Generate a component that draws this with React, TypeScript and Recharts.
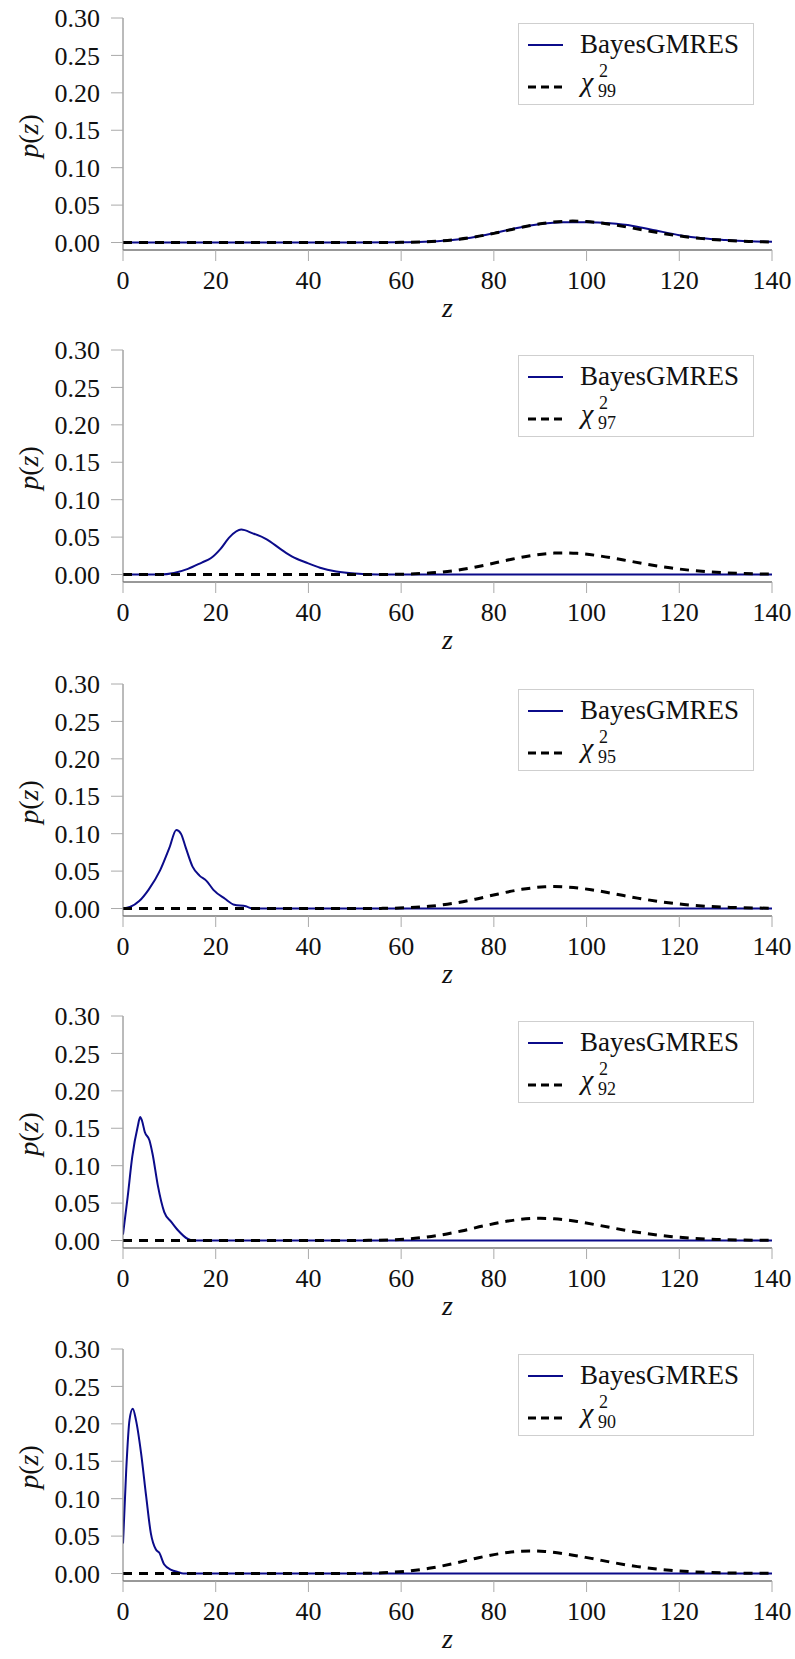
import React from 'react';
import { LineChart, Line, XAxis, YAxis, Legend } from 'recharts';

const zTicks = [0, 20, 40, 60, 80, 100, 120, 140];
const pTicks = [0, 0.05, 0.1, 0.15, 0.2, 0.25, 0.3];
const dofLabels = ['99', '97', '95', '92', '90'];

// BayesGMRES densities
const bayes99Z = [0, 50, 60, 65, 70, 75, 80, 85, 90, 95, 100, 105, 110, 115, 120, 125, 130, 135, 140];
const bayes99P = [0, 0, 0.0003, 0.001, 0.0028, 0.0065, 0.0125, 0.0195, 0.0248, 0.0272, 0.027, 0.0256, 0.0222, 0.016, 0.0098, 0.0056, 0.0034, 0.0018, 0.0009];

const bayes97Z = [0, 8, 11, 14, 17, 19, 21, 23, 25.5, 28, 31, 34, 36.5, 39.5, 42.5, 46, 50, 55, 140];
const bayes97P = [0, 0, 0.002, 0.0075, 0.016, 0.022, 0.034, 0.05, 0.06, 0.055, 0.047, 0.034, 0.024, 0.016, 0.009, 0.004, 0.0012, 0, 0];

const bayes95Z = [0, 1.5, 3.5, 5.5, 8, 10, 11.5, 12.5, 13.5, 15, 16.5, 18, 19.5, 22, 24, 26.5, 28, 140];
const bayes95P = [0, 0.002, 0.01, 0.025, 0.051, 0.081, 0.105, 0.1, 0.082, 0.056, 0.044, 0.037, 0.025, 0.013, 0.005, 0.003, 0, 0];

const bayes92Z = [0, 1, 2, 3.2, 3.7, 4.1, 4.7, 5.7, 6.4, 7.5, 8.9, 10.4, 11.8, 14, 15, 140];
const bayes92P = [0.008, 0.058, 0.112, 0.153, 0.165, 0.16, 0.145, 0.134, 0.115, 0.074, 0.038, 0.025, 0.014, 0.002, 0, 0];

const bayes90Z = [0, 0.7, 1.4, 2.1, 2.8, 3.9, 5, 6, 7.1, 7.8, 8.9, 10.4, 11.8, 13, 140];
const bayes90P = [0.04, 0.139, 0.205, 0.22, 0.205, 0.161, 0.103, 0.054, 0.032, 0.028, 0.012, 0.005, 0.002, 0, 0];

// chi-squared reference densities
const chi99Z = [0, 50, 60, 65, 70, 75, 80, 85, 90, 95, 97, 100, 105, 110, 115, 120, 125, 130, 135, 140];
const chi99P = [0, 0, 0.0002, 0.0009, 0.0028, 0.0066, 0.0122, 0.0191, 0.025, 0.0283, 0.0286, 0.028, 0.0245, 0.0192, 0.0136, 0.0088, 0.0052, 0.0029, 0.0015, 0.0007];

const chi97Z = [0, 48, 58, 63, 68, 73, 78, 83, 88, 93, 95, 98, 103, 108, 113, 118, 123, 128, 133, 138, 140];
const chi97P = [0, 0, 0.0002, 0.001, 0.0028, 0.0066, 0.0124, 0.0193, 0.0253, 0.0286, 0.0289, 0.0283, 0.0247, 0.0194, 0.0137, 0.0089, 0.0053, 0.0029, 0.0015, 0.0007, 0.0005];

const chi95Z = [0, 46, 56, 61, 66, 71, 76, 81, 86, 91, 93, 96, 101, 106, 111, 116, 121, 126, 131, 136, 140];
const chi95P = [0, 0, 0.0002, 0.001, 0.0029, 0.0067, 0.0125, 0.0195, 0.0256, 0.029, 0.0293, 0.0286, 0.0251, 0.0196, 0.0139, 0.009, 0.0054, 0.0029, 0.0015, 0.0007, 0.0004];

const chi92Z = [0, 43, 53, 58, 63, 68, 73, 78, 83, 88, 90, 93, 98, 103, 108, 113, 118, 123, 128, 133, 138, 140];
const chi92P = [0, 0, 0.0002, 0.001, 0.0029, 0.0068, 0.0127, 0.0198, 0.026, 0.0294, 0.0297, 0.029, 0.0254, 0.0199, 0.0141, 0.0091, 0.0054, 0.003, 0.0015, 0.0007, 0.0003, 0.0002];

const chi90Z = [0, 41, 51, 56, 61, 66, 71, 76, 81, 86, 88, 91, 96, 101, 106, 111, 116, 121, 126, 131, 136, 140];
const chi90P = [0, 0, 0.0002, 0.001, 0.003, 0.0069, 0.0129, 0.0201, 0.0263, 0.0298, 0.0301, 0.0294, 0.0257, 0.0202, 0.0143, 0.0092, 0.0055, 0.003, 0.0015, 0.0007, 0.0003, 0.0002];

const toPoints = (zs: number[], ps: number[]) => zs.map((z, i) => ({ z, p: ps[i] }));

const panels = [
  { dof: dofLabels[0], bayes: toPoints(bayes99Z, bayes99P), chi: toPoints(chi99Z, chi99P) },
  { dof: dofLabels[1], bayes: toPoints(bayes97Z, bayes97P), chi: toPoints(chi97Z, chi97P) },
  { dof: dofLabels[2], bayes: toPoints(bayes95Z, bayes95P), chi: toPoints(chi95Z, chi95P) },
  { dof: dofLabels[3], bayes: toPoints(bayes92Z, bayes92P), chi: toPoints(chi92Z, chi92P) },
  { dof: dofLabels[4], bayes: toPoints(bayes90Z, bayes90P), chi: toPoints(chi90Z, chi90P) },
];

const panelTops = [0, 332, 666, 998, 1331];

const FONT = "'Liberation Serif', 'DejaVu Serif', serif";
const NAVY = '#0b0b8a';
const W = 795;
const H = 333;

// recharts tick text ignored the font attribute, so force it here
const globalCss = `.figwrap svg text, .figwrap svg tspan { font-family: ${FONT} !important; }`;

const legendBox = (dof: string) => () => (
  <svg width={236} height={82} style={{ display: 'block' }}>
    <rect x={0.5} y={0.5} width={235} height={81} fill="#fff" stroke="#cfcfcf" />
    <line x1={10} x2={45} y1={22} y2={22} stroke={NAVY} strokeWidth={2} />
    <text x={62} y={30} fontSize={27} fill="#111">BayesGMRES</text>
    <line x1={10} x2={45} y1={64} y2={64} stroke="#000" strokeWidth={3} strokeDasharray="8 5" />
    <text x={63} y={68} fontSize={28} fontStyle="italic" fill="#111">χ</text>
    <text x={81} y={54} fontSize={18} fill="#111">2</text>
    <text x={80} y={74} fontSize={18} fill="#111">{dof}</text>
  </svg>
);

const YLabel = (props: any) => {
  const vb = props.viewBox || {};
  const cy = (vb.y || 0) + (vb.height || 0) / 2 + 2;
  const cx = 28;
  return (
    <text
      x={cx}
      y={cy}
      transform={`rotate(-90, ${cx}, ${cy})`}
      textAnchor="middle"
      dominantBaseline="central"
      fontSize={28}
      fill="#111"
    >
      <tspan fontStyle="italic">p</tspan>
      <tspan>(</tspan>
      <tspan fontStyle="italic">z</tspan>
      <tspan>)</tspan>
    </text>
  );
};

const XLabel = (props: any) => {
  const vb = props.viewBox || {};
  return (
    <text
      x={(vb.x || 0) + (vb.width || 0) / 2}
      y={(vb.y || 0) + 67}
      textAnchor="middle"
      fontSize={28}
      fontStyle="italic"
      fill="#111"
    >
      z
    </text>
  );
};

const tickStyle = { fontSize: 26, fill: '#111' };

const Panel = ({ dof, bayes, chi }: any) => (
  <LineChart width={W} height={H} margin={{ top: 18, right: 23, bottom: 0, left: 0 }}>
    <XAxis
      dataKey="z"
      type="number"
      domain={[0, 140]}
      ticks={zTicks}
      allowDataOverflow
      height={83}
      tickSize={11}
      tickMargin={10}
      tick={tickStyle}
      tickLine={{ stroke: '#aaa' }}
      axisLine={{ stroke: '#333' }}
      label={<XLabel />}
    />
    <XAxis
      xAxisId="top"
      orientation="top"
      dataKey="z"
      type="number"
      domain={[0, 140]}
      ticks={[]}
      tick={false}
      tickLine={false}
      height={0}
      axisLine={{ stroke: '#333' }}
    />
    <YAxis
      type="number"
      domain={[-0.01, 0.3]}
      ticks={pTicks}
      allowDataOverflow
      width={123}
      tickSize={12}
      tickMargin={11}
      tick={tickStyle}
      tickFormatter={(v: number) => v.toFixed(2)}
      tickLine={{ stroke: '#aaa' }}
      axisLine={{ stroke: '#777' }}
      label={<YLabel />}
    />
    <YAxis
      yAxisId="right"
      orientation="right"
      type="number"
      domain={[-0.01, 0.3]}
      ticks={[]}
      tick={false}
      tickLine={false}
      width={0}
      axisLine={{ stroke: '#333' }}
    />
    <Legend
      layout="horizontal"
      verticalAlign="middle"
      align="center"
      content={legendBox(dof)}
      wrapperStyle={{ left: 518, top: 23, width: 236, height: 82 }}
    />
    <Line
      data={bayes}
      dataKey="p"
      type="monotone"
      stroke={NAVY}
      strokeWidth={2}
      dot={false}
      activeDot={false}
      isAnimationActive={false}
    />
    <Line
      data={chi}
      dataKey="p"
      type="monotone"
      stroke="#000"
      strokeWidth={3}
      strokeDasharray="9 7"
      dot={false}
      activeDot={false}
      isAnimationActive={false}
    />
  </LineChart>
);

export default function App() {
  return (
    <div className="figwrap" style={{ position: 'absolute', left: 0, top: 0, width: W, height: 1659, background: '#fff', fontFamily: FONT }}>
      <style>{globalCss}</style>
      {panels.map((pnl, i) => (
        <div key={pnl.dof} style={{ position: 'absolute', left: 0, top: panelTops[i], width: W, height: H }}>
          <Panel dof={pnl.dof} bayes={pnl.bayes} chi={pnl.chi} />
        </div>
      ))}
    </div>
  );
}
